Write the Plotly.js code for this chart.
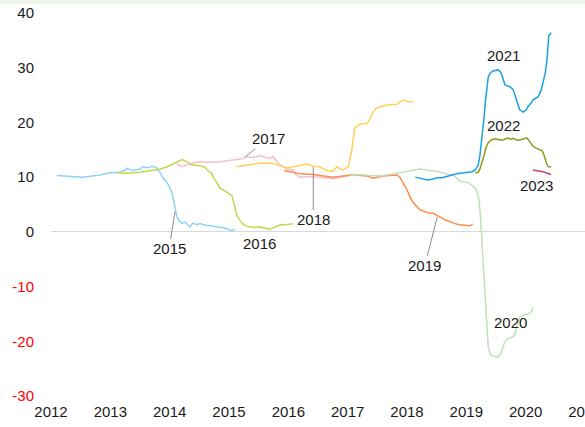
<!DOCTYPE html>
<html>
<head>
<meta charset="utf-8">
<script src="https://cdn.plot.ly/plotly-3.0.1.min.js"></script>
<style>html,body{margin:0;padding:0;background:#fff;}#chart{width:585px;height:427px;}</style>
</head>
<body>
<div id="chart"></div>
<script>
// ---- data (x in decimal years, y values) ----
const x2015 = [2012.10,2012.24,2012.40,2012.54,2012.69,2012.83,2012.99,2013.16,2013.25,2013.28,2013.38,2013.50,2013.55,2013.63,2013.70,2013.77,2013.80,2013.84,2013.90,2013.96,2014.01,2014.04,2014.07,2014.09,2014.12,2014.16,2014.21,2014.26,2014.29,2014.34,2014.39,2014.46,2014.51,2014.60,2014.68,2014.76,2014.85,2014.93,2015.02,2015.05,2015.10];
const y2015 = [10.3,10.2,10.0,10.0,10.2,10.4,10.8,10.9,11.3,11.6,11.2,11.5,11.9,11.7,12.0,11.8,11.3,10.8,9.7,9.0,7.8,7.1,5.5,4.2,2.8,2.0,1.6,1.8,1.4,0.9,1.6,1.3,1.5,1.2,1.1,1.0,0.9,0.7,0.3,0.2,0.5];

const x2016 = [2013.11,2013.28,2013.50,2013.72,2013.84,2013.96,2014.09,2014.21,2014.29,2014.38,2014.51,2014.60,2014.63,2014.70,2014.76,2014.85,2014.92,2014.98,2015.05,2015.10,2015.13,2015.19,2015.24,2015.30,2015.35,2015.44,2015.52,2015.61,2015.69,2015.78,2015.86,2015.94,2016.03,2016.08];
const y2016 = [10.8,10.7,10.9,11.2,11.5,11.9,12.6,13.2,12.8,12.2,12.1,11.8,11.3,10.8,9.6,8.0,7.6,7.1,6.6,4.5,3.0,2.0,1.4,1.0,0.9,0.8,0.9,0.7,0.5,0.9,1.3,1.3,1.5,1.5];

const x2017 = [2014.12,2014.21,2014.29,2014.39,2014.51,2014.68,2014.85,2015.07,2015.19,2015.30,2015.40,2015.52,2015.61,2015.69,2015.74,2015.81,2015.91,2015.99,2016.08,2016.13,2016.20,2016.37,2016.53,2016.75,2016.92,2017.09];
const y2017 = [12.4,11.9,12.2,12.6,12.8,12.7,12.8,13.2,13.3,13.7,13.6,13.9,13.6,13.4,13.8,12.8,11.9,11.5,11.3,10.4,10.0,10.1,10.0,9.7,10.0,10.6];

const x2018 = [2015.12,2015.24,2015.35,2015.49,2015.64,2015.78,2015.86,2015.98,2016.08,2016.20,2016.31,2016.42,2016.53,2016.65,2016.75,2016.82,2016.87,2016.92,2017.01,2017.04,2017.07,2017.12,2017.21,2017.33,2017.38,2017.44,2017.49,2017.58,2017.66,2017.83,2017.93,2018.02,2018.10];
const y2018 = [11.9,12.1,12.4,12.5,12.6,12.4,12.1,11.7,11.9,12.2,12.4,12.0,11.9,11.2,11.1,11.9,11.5,11.3,11.9,13.5,15.0,19.0,19.7,19.8,20.8,22.0,22.7,23.0,23.2,23.3,24.1,23.8,23.8];

const x2019 = [2015.93,2016.03,2016.11,2016.20,2016.42,2016.62,2016.75,2016.92,2017.09,2017.21,2017.33,2017.43,2017.51,2017.60,2017.71,2017.83,2017.88,2017.95,2018.00,2018.05,2018.10,2018.17,2018.22,2018.30,2018.35,2018.44,2018.51,2018.56,2018.64,2018.73,2018.81,2018.89,2018.98,2019.06,2019.11];
const y2019 = [11.2,11.0,10.8,10.6,10.5,10.2,10.0,10.2,10.4,10.3,10.2,9.8,10.0,10.2,10.3,10.4,10.0,8.6,7.7,6.4,5.4,4.6,4.0,3.7,3.5,3.4,2.9,2.7,2.2,1.8,1.5,1.3,1.2,1.1,1.4];

const x2020 = [2017.04,2017.21,2017.38,2017.55,2017.71,2017.88,2018.05,2018.22,2018.39,2018.49,2018.59,2018.69,2018.78,2018.84,2018.89,2018.98,2019.03,2019.10,2019.15,2019.18,2019.21,2019.23,2019.25,2019.26,2019.28,2019.30,2019.32,2019.33,2019.35,2019.37,2019.40,2019.43,2019.48,2019.53,2019.58,2019.62,2019.65,2019.70,2019.79,2019.82,2019.85,2019.90,2019.97,2020.02,2020.07,2020.11,2020.12];
const y2020 = [10.3,10.5,10.3,10.2,10.5,10.8,11.2,11.5,11.2,11.1,10.8,10.5,10.4,9.8,9.3,9.1,9.0,8.5,8.0,7.3,6.0,4.0,1.5,-1.0,-5.0,-9.0,-12.5,-15.5,-18.5,-21.0,-22.2,-22.6,-22.8,-22.9,-22.2,-20.8,-20.1,-19.5,-19.2,-18.6,-17.4,-15.6,-15.2,-15.0,-14.9,-14.4,-13.7];

const x2021 = [2018.14,2018.22,2018.34,2018.42,2018.51,2018.59,2018.67,2018.76,2018.84,2018.93,2019.01,2019.10,2019.15,2019.18,2019.20,2019.23,2019.26,2019.30,2019.32,2019.35,2019.37,2019.40,2019.45,2019.53,2019.57,2019.60,2019.64,2019.65,2019.70,2019.74,2019.79,2019.82,2019.85,2019.89,2019.90,2019.96,2020.01,2020.04,2020.09,2020.12,2020.17,2020.21,2020.26,2020.29,2020.33,2020.36,2020.38,2020.39,2020.43];
const y2021 = [10.0,9.8,9.5,9.6,9.9,9.9,10.2,10.4,10.6,10.7,10.8,11.0,11.3,11.8,12.2,14.0,16.8,21.0,23.6,27.0,28.3,29.0,29.4,29.6,29.3,28.7,27.5,26.9,26.6,26.5,26.0,25.0,24.1,22.8,22.3,21.9,22.3,22.9,23.5,24.1,24.4,24.7,25.8,27.2,29.0,31.4,35.0,35.8,36.4];

const x2022 = [2019.15,2019.20,2019.23,2019.26,2019.30,2019.33,2019.37,2019.42,2019.48,2019.57,2019.62,2019.70,2019.74,2019.79,2019.85,2019.90,2019.97,2020.02,2020.07,2020.12,2020.16,2020.23,2020.28,2020.31,2020.33,2020.36,2020.38,2020.43];
const y2022 = [10.8,10.9,11.5,12.5,14.0,15.4,16.3,16.8,17.0,16.8,16.8,17.2,16.9,17.1,16.8,16.8,17.0,17.2,16.5,15.7,15.4,15.0,14.8,14.0,13.2,12.3,11.9,11.9];

const x2023 = [2020.12,2020.19,2020.24,2020.29,2020.34,2020.39,2020.43];
const y2023 = [11.3,11.2,11.0,11.0,10.8,10.7,10.5];

const seriesNames = ['2015','2016','2017','2018','2019','2020','2021','2022','2023'];
const xTickVals = [2012,2013,2014,2015,2016,2017,2018,2019,2020,2021];
const yTickVals = [-30,-20,-10,0,10,20,30,40];

// ---- styling ----
const colors = ['#8dd3f7','#c3d64c','#f3bfcc','#ffd25c','#ff8c47','#c0e0b9','#1ba1e2','#8e9b1f','#c63f6a'];
const xs = [x2015,x2016,x2017,x2018,x2019,x2020,x2021,x2022,x2023];
const ys = [y2015,y2016,y2017,y2018,y2019,y2020,y2021,y2022,y2023];

const traces = seriesNames.map((n,i)=>({
  type:'scatter', mode:'lines', name:n, x:xs[i], y:ys[i],
  line:{color:colors[i], width:1.5}, hoverinfo:'skip'
}));

const yTickText = yTickVals.map(v => v < 0 ? '<span style="color:#ff0000">'+v+'</span>' : String(v));

const labelFont = {family:'Liberation Sans, Arial, sans-serif', size:15, color:'#1a1a1a'};
const arrowStyle = {showarrow:true, arrowhead:0, arrowwidth:1, arrowcolor:'#8c8c8c', standoff:0, axref:'x', ayref:'y'};

const annotations = [
  Object.assign({text:'2015', x:2014.09, y:3.66, ax:2013.99, ay:-3.11}, arrowStyle),
  {text:'2016', x:2015.52, y:-2.19, showarrow:false},
  Object.assign({text:'2017', x:2015.27, y:13.7, ax:2015.66, ay:17.0}, arrowStyle),
  Object.assign({text:'2018', x:2016.42, y:11.9, ax:2016.42, ay:2.19}, arrowStyle),
  Object.assign({text:'2019', x:2018.51, y:2.74, ax:2018.30, ay:-6.22}, arrowStyle),
  {text:'2020', x:2019.75, y:-16.6, showarrow:false},
  {text:'2021', x:2019.62, y:32.2, showarrow:false},
  {text:'2022', x:2019.62, y:19.4, showarrow:false},
  {text:'2023', x:2020.19, y:8.41, showarrow:false}
].map(a => Object.assign({xref:'x', yref:'y', font:labelFont}, a));

const layout = {
  width:585, height:427,
  margin:{l:51, r:0, t:13, b:31, pad:0},
  paper_bgcolor:'#ffffff', plot_bgcolor:'#ffffff',
  showlegend:false,
  font:labelFont,
  xaxis:{
    range:[2012,2021.0005], tickvals:xTickVals, ticktext:xTickVals.map(String),
    showgrid:false, zeroline:false, showline:false, ticks:'',
    tickfont:labelFont, ticklabelstandoff:5, ticklabeloverflow:'allow'
  },
  yaxis:{
    range:[-30,40], tickvals:yTickVals, ticktext:yTickText,
    showgrid:false, zeroline:true, zerolinecolor:'#d9d9d9', zerolinewidth:1,
    showline:false, ticks:'', tickfont:labelFont, ticklabelstandoff:16
  },
  shapes:[{type:'rect', xref:'paper', yref:'paper', x0:-0.2, x1:1.1, y0:1.0235, y1:1.06,
           fillcolor:'#eef5ec', line:{width:0}, layer:'below'}],
  annotations:annotations
};

Plotly.newPlot('chart', traces, layout, {staticPlot:true, displayModeBar:false});
</script>
</body>
</html>
